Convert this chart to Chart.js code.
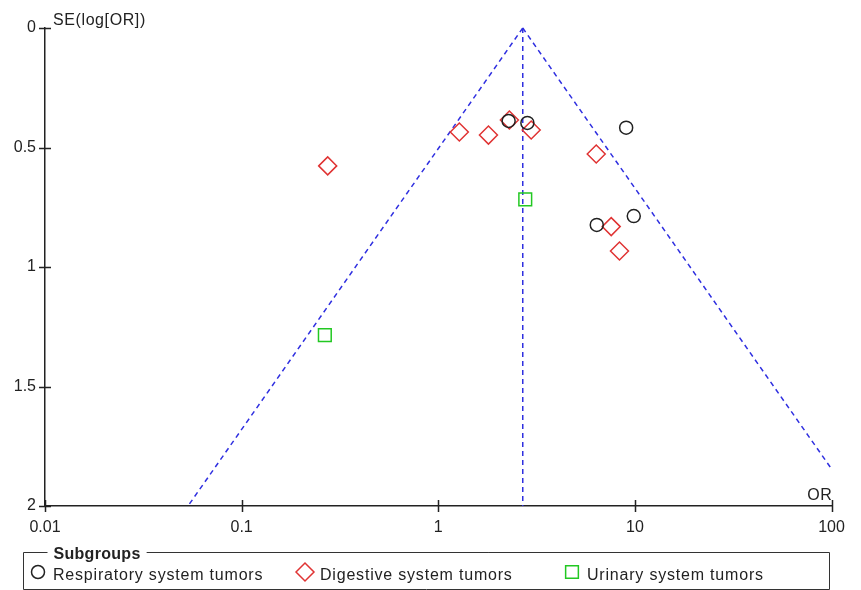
<!DOCTYPE html>
<html>
<head>
<meta charset="utf-8">
<script src="https://cdn.jsdelivr.net/npm/chart.js@4/dist/chart.umd.min.js"></script>
<style>
  html, body { margin: 0; padding: 0; background: #fff; }
  #wrap { width: 861px; height: 590px; }
</style>
</head>
<body>
<div id="wrap"><canvas id="funnel" width="861" height="590"></canvas></div>
<script>
// subgroup names
var groupNames = ['Respiratory system tumors', 'Digestive system tumors', 'Urinary system tumors'];

// odds ratios and standard errors of log(OR)
var respOR = [2.28, 2.84, 9.03, 6.40, 9.87];
var respSE = [0.389, 0.397, 0.417, 0.824, 0.787];

var digOR = [0.274, 1.28, 1.80, 2.30, 2.97, 6.36, 7.58, 8.35];
var digSE = [0.577, 0.435, 0.448, 0.385, 0.427, 0.527, 0.831, 0.933];

var uriOR = [2.77, 0.265];
var uriSE = [0.717, 1.285];

// pooled estimate and funnel limits
var pooledOR = 2.69;
var zValue = 1.96;
var xTicks = [0.01, 0.1, 1, 10, 100];
var yTicks = [0, 0.5, 1, 1.5, 2];

var FONT = '"Liberation Sans", Arial, sans-serif';
var TEXT = '#222';

function pts(or, se) {
    return or.map(function (v, i) { return { x: v, y: se[i] }; });
}

var seMax = 2;
var xMax = 100;
var leftLine = [{ x: pooledOR, y: 0 }, { x: pooledOR * Math.exp(-zValue * seMax), y: seMax }];
var rightLine = [{ x: pooledOR, y: 0 }, { x: xMax, y: Math.log(xMax / pooledOR) / zValue }];
var midLine = [{ x: pooledOR, y: 0 }, { x: pooledOR, y: seMax }];

function funnelSet(d) {
    return {
        type: 'line', data: d, borderColor: '#2f2fe0', borderWidth: 1.5,
        borderDash: [5, 4], pointRadius: 0, fill: false, clip: false, order: 2
    };
}

var datasets = [
    funnelSet(leftLine), funnelSet(rightLine), funnelSet(midLine),
    {
        label: groupNames[0], data: pts(respOR, respSE), pointStyle: 'circle', pointRadius: 6.5,
        borderColor: '#222', backgroundColor: 'rgba(0,0,0,0)', pointBorderWidth: 1.5, order: 1
    },
    {
        label: groupNames[1], data: pts(digOR, digSE), pointStyle: 'rectRot', pointRadius: 9,
        borderColor: '#e03434', backgroundColor: 'rgba(0,0,0,0)', pointBorderWidth: 1.5, order: 1
    },
    {
        label: groupNames[2], data: pts(uriOR, uriSE), pointStyle: 'rect', pointRadius: 9,
        borderColor: '#22c822', backgroundColor: 'rgba(0,0,0,0)', pointBorderWidth: 1.5, order: 1
    }
];

// axis titles, tick marks crossing the axes, and the boxed legend
var decorations = {
    id: 'decorations',
    afterDraw: function (chart) {
        var ctx = chart.ctx;
        var a = chart.chartArea;
        var xs = chart.scales.x, ys = chart.scales.y;
        ctx.save();
        ctx.strokeStyle = '#222';
        ctx.lineWidth = 1.5;
        ctx.beginPath();
        xTicks.forEach(function (v) {
            var px = Math.round(xs.getPixelForValue(v)) + 0.5;
            ctx.moveTo(px, a.bottom - 6); ctx.lineTo(px, a.bottom + 6);
        });
        yTicks.forEach(function (v) {
            var py = Math.round(ys.getPixelForValue(v)) + 0.5;
            ctx.moveTo(a.left - 6, py); ctx.lineTo(a.left + 6, py);
        });
        ctx.stroke();

        ctx.fillStyle = TEXT;
        ctx.font = '16px ' + FONT;
        ctx.letterSpacing = '0.6px';
        ctx.textBaseline = 'alphabetic';
        ctx.textAlign = 'left';
        ctx.fillText('SE(log[OR])', a.left + 8, 25);
        ctx.textAlign = 'right';
        ctx.fillText('OR', a.right + 1, a.bottom - 6);

        // legend box
        var bx = 23.5, by = 552.5, bw = 806, bh = 37;
        ctx.font = 'bold 16px ' + FONT;
        ctx.letterSpacing = '0.3px';
        ctx.textAlign = 'left';
        var title = 'Subgroups';
        var tw = ctx.measureText(title).width;
        ctx.lineWidth = 1;
        ctx.strokeStyle = '#333';
        ctx.beginPath();
        ctx.moveTo(bx + 24, by); ctx.lineTo(bx, by); ctx.lineTo(bx, by + bh);
        ctx.lineTo(bx + bw, by + bh); ctx.lineTo(bx + bw, by); ctx.lineTo(bx + 30 + tw + 6, by);
        ctx.stroke();
        ctx.fillText(title, bx + 30, by + 6);

        ctx.font = '16px ' + FONT;
        ctx.letterSpacing = '0.8px';
        var itemX = [38, 305, 572];
        var textX = [53, 320, 587];
        [3, 4, 5].forEach(function (di, k) {
            var ds = chart.data.datasets[di];
            ctx.strokeStyle = ds.borderColor;
            ctx.fillStyle = 'rgba(0,0,0,0)';
            ctx.lineWidth = 1.5;
            Chart.helpers.drawPoint(ctx, {
                pointStyle: ds.pointStyle, radius: ds.pointRadius, borderWidth: 1.5, rotation: 0
            }, itemX[k], 572);
            ctx.fillStyle = TEXT;
            ctx.fillText(ds.label, textX[k], 580);
        });
        ctx.restore();
    }
};

new Chart(document.getElementById('funnel').getContext('2d'), {
    type: 'scatter',
    data: { datasets: datasets },
    plugins: [decorations],
    options: {
        responsive: false,
        animation: false,
        layout: { padding: { top: 28, right: 29.5, left: 0, bottom: 0 } },
        plugins: { legend: { display: false }, tooltip: { enabled: false } },
        scales: {
            x: {
                type: 'logarithmic', min: 0.01, max: 100,
                afterBuildTicks: function (s) { s.ticks = xTicks.map(function (v) { return { value: v }; }); },
                afterFit: function (s) { s.height = 84; },
                ticks: {
                    color: TEXT, font: { family: FONT, size: 16 }, padding: 12, maxRotation: 0, autoSkip: false,
                    callback: function (v) { return String(v); }
                },
                grid: { drawOnChartArea: false, drawTicks: false },
                border: { display: true, color: '#222', width: 1.5 }
            },
            y: {
                type: 'linear', reverse: true, min: 0, max: 2,
                afterBuildTicks: function (s) { s.ticks = yTicks.map(function (v) { return { value: v }; }); },
                afterFit: function (s) { s.width = 45; },
                ticks: {
                    color: TEXT, font: { family: FONT, size: 16 }, padding: 9,
                    callback: function (v) { return String(v); }
                },
                grid: { drawOnChartArea: false, drawTicks: false },
                border: { display: true, color: '#222', width: 1.5 }
            }
        }
    }
});
</script>
</body>
</html>
